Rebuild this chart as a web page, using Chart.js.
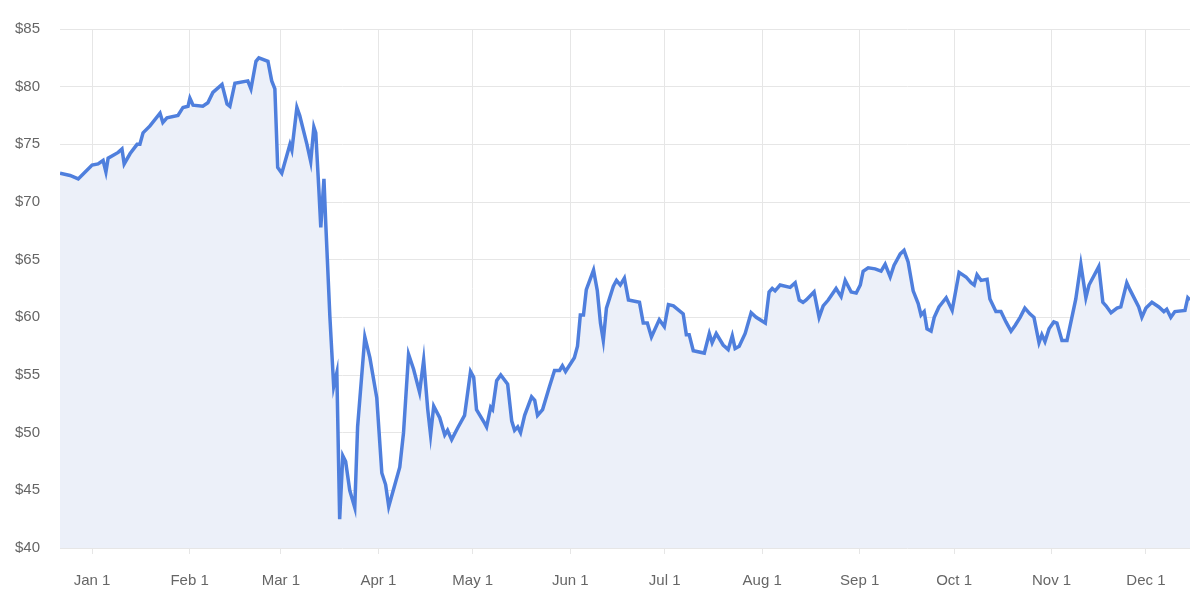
<html>
<head>
    <title>Price</title>
    <script src="https://cdn.jsdelivr.net/npm/chart.js"></script>
    <style>
        body { margin: 0; background: #fff; }
        .wrap { width: 1200px; height: 614px; }
    </style>
</head>
<body>
<div class="wrap"><canvas id="priceChart" width="1200" height="614"></canvas></div>
<script>
    // days since Jan 1
    const days = [-10.2,-7,-4.4,-2.2,0,1.9,3.5,4.4,5.1,8.3,9.5,10.2,12.1,14.3,15.2,16.2,18.4,21.6,22.5,23.8,27.3,28.9,30.5,31.1,32.1,35.2,36.8,38.4,41.3,42.9,43.8,45.4,49.5,50.5,52.1,53,55.9,57.1,58.1,59,60.3,62.9,63.5,65.1,66,68.3,69.5,70.5,71.1,72.1,72.7,73.7,74.3,75.6,76.8,77.8,78.7,79.7,80.6,81.9,83.5,84.4,86.7,88.3,90.5,92.1,93.3,94.3,97.8,99,100.6,102.2,104.1,105.4,106.7,107.6,108.6,110.5,112.1,113,114.3,116.2,118.4,120.3,121.3,122.2,124.8,125.4,126.7,127.3,128.6,129.9,132.1,133.4,134.3,135.3,136.2,137.5,139.7,140.7,141.6,143.2,145.4,147,148.6,149.5,150.5,153.3,154.3,155.2,156.2,157.1,159.4,160.6,161.6,162.5,163.5,165.7,166.7,167.9,169.2,170.5,174,175.2,176.5,177.8,180.3,181.9,183.2,184.8,187.9,188.9,189.8,191.1,194.6,196.2,197.1,198.4,200.6,202.2,203.5,204.4,205.7,207.6,209.5,211.1,214,215.2,216.2,217.1,218.7,221.9,223.5,224.8,226,227,229.5,231.1,232.4,234,236.5,238.1,239.4,241.3,242.9,244.2,245.1,246.7,248.9,250.8,252.1,253.7,254.9,256.9,258.1,259.4,261,262.6,263.5,264.5,265.4,266.7,267.7,269.2,271.5,273.4,275.6,277.8,279.4,280.4,281.3,282.6,284.5,285.4,287.3,288.9,290.5,292.1,293.4,295,296.5,298.1,299.4,301,301.9,302.9,304.2,305.7,306.7,308.3,309.9,312.7,314.3,315.9,316.9,320,321.3,322.3,323.9,325.8,327,328.9,329.9,332.7,333.7,335,336.9,339.1,340.7,341.6,342.9,344.2,347.4,348.3,349]
    const prices = [72.5,72.3,72.0,72.6,73.2,73.3,73.6,72.6,73.8,74.3,74.6,73.3,74.2,75.0,75.0,76.0,76.6,77.7,76.9,77.3,77.5,78.2,78.3,79.0,78.4,78.3,78.6,79.5,80.2,78.5,78.3,80.3,80.5,79.8,82.2,82.5,82.2,80.5,79.8,73.0,72.5,75.0,74.5,78.2,77.5,75.0,73.5,76.5,76.0,71.0,67.8,72.0,68.0,60.0,54.0,55.2,42.5,48.0,47.5,45.0,43.5,50.5,58.3,56.5,53.0,46.5,45.5,43.6,47.0,50.0,56.8,55.5,53.5,56.3,52.0,49.8,52.3,51.3,49.8,50.2,49.4,50.4,51.5,55.3,54.8,52.0,50.8,50.5,52.2,52.0,54.5,55.0,54.2,51.0,50.2,50.5,50.0,51.5,53.1,52.8,51.5,52.0,54.0,55.4,55.4,55.8,55.3,56.5,57.5,60.2,60.2,62.4,64.1,62.3,59.5,58.0,60.8,62.7,63.2,62.8,63.4,61.5,61.3,59.5,59.5,58.3,59.8,59.2,61.1,61.0,60.3,58.5,58.5,57.1,56.9,58.6,57.8,58.6,57.6,57.2,58.4,57.3,57.5,58.6,60.4,60.0,59.5,62.2,62.5,62.3,62.8,62.6,63.0,61.5,61.3,61.5,62.2,60.0,61.0,61.5,62.5,61.8,63.2,62.2,62.1,62.8,64.0,64.3,64.2,64.0,64.6,63.5,64.5,65.5,65.8,64.8,62.3,61.2,60.2,60.5,59.0,58.8,60.0,60.9,61.7,60.6,63.9,63.5,63.0,62.8,63.7,63.2,63.3,61.6,60.5,60.5,59.6,58.8,59.3,60.0,60.8,60.3,60.0,57.8,58.5,57.9,59.0,59.6,59.5,58.0,58.0,61.6,64.6,61.7,62.8,64.4,61.3,61.0,60.4,60.8,60.9,63.0,62.4,60.9,60.0,60.8,61.3,60.9,60.5,60.7,60.0,60.5,60.6,61.7,61.5]

    const monthTicks = [0, 31, 60, 91, 121, 152, 182, 213, 244, 274, 305, 335]
    const monthLabels = ['Jan 1', 'Feb 1', 'Mar 1', 'Apr 1', 'May 1', 'Jun 1', 'Jul 1', 'Aug 1', 'Sep 1', 'Oct 1', 'Nov 1', 'Dec 1']

    const ctx = document.getElementById('priceChart').getContext('2d')
    new Chart(ctx, {
        type: 'line',
        data: {
            datasets: [{
                data: days.map((d, i) => ({ x: d, y: prices[i] })),
                borderColor: '#4f7fdd',
                backgroundColor: '#ecf0f9',
                borderWidth: 3.5,
                fill: 'start',
                pointRadius: 0,
                tension: 0
            }]
        },
        options: {
            responsive: false,
            animation: false,
            layout: { padding: { top: 13, right: 10, left: 0, bottom: 6 } },
            plugins: { legend: { display: false }, tooltip: { enabled: false } },
            scales: {
                x: {
                    type: 'linear',
                    min: -10.2,
                    max: 349,
                    afterBuildTicks: (axis) => { axis.ticks = monthTicks.map(v => ({ value: v })) },
                    ticks: {
                        callback: (v) => monthLabels[monthTicks.indexOf(v)],
                        color: '#666',
                        font: { size: 15, family: 'Helvetica, Arial, sans-serif' },
                        maxRotation: 0,
                        autoSkip: false,
                        padding: 18
                    },
                    grid: { color: '#e6e6e6', drawTicks: true, tickLength: 6 },
                    border: { display: false }
                },
                y: {
                    min: 40,
                    max: 85,
                    afterFit: (axis) => { axis.width = 60 },
                    ticks: {
                        stepSize: 5,
                        callback: (v) => '$' + v,
                        color: '#666',
                        font: { size: 15, family: 'Helvetica, Arial, sans-serif' },
                        padding: 20
                    },
                    grid: { color: '#e6e6e6', drawTicks: false },
                    border: { display: false }
                }
            }
        }
    })
</script>
</body>
</html>
